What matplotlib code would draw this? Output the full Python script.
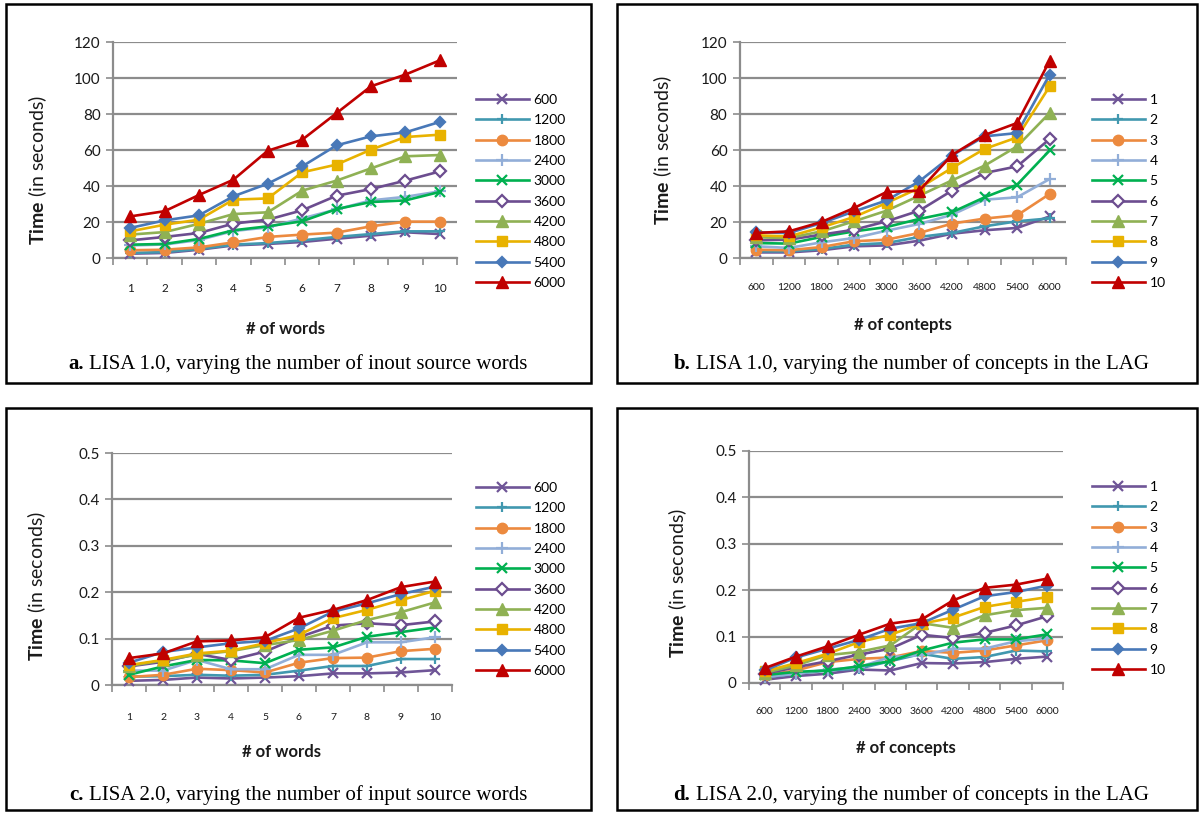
import numpy as np
import matplotlib
matplotlib.use("Agg")
import matplotlib.pyplot as plt
from matplotlib.patches import Rectangle
from matplotlib.offsetbox import TextArea, HPacker, AnchoredOffsetbox

plt.rcParams['font.family'] = ['Lato', 'DejaVu Sans']
plt.rcParams['mathtext.fontset'] = 'custom'
plt.rcParams['mathtext.rm'] = 'Lato'
plt.rcParams['mathtext.bf'] = 'Lato:bold'

# categories on the x axes
words = ['1', '2', '3', '4', '5', '6', '7', '8', '9', '10']
concepts = ['600', '1200', '1800', '2400', '3000', '3600', '4200', '4800', '5400', '6000']

# legend labels
concept_series = concepts
word_series = words

# LISA 1.0, time vs number of words (one row per concept count)
lisa1_words = [
    [2.4, 2.8, 4.6, 7.0, 7.8, 8.9, 10.7, 12.4, 14.3, 13.3],
    [2.8, 3.3, 5.0, 7.4, 8.3, 9.8, 11.7, 13.3, 14.8, 14.8],
    [4.3, 4.6, 5.9, 8.7, 11.7, 13.0, 14.1, 17.6, 20.2, 20.2],
    [7.0, 7.5, 10.0, 15.0, 17.0, 22.0, 27.0, 32.0, 34.0, 37.0],
    [7.4, 7.8, 10.6, 15.4, 17.6, 20.4, 27.2, 31.1, 32.0, 36.7],
    [9.8, 11.7, 13.9, 19.1, 21.3, 26.5, 34.6, 38.3, 43.0, 48.1],
    [13.0, 14.4, 19.0, 24.4, 25.4, 37.4, 43.0, 49.8, 56.5, 57.2],
    [14.8, 18.5, 21.3, 32.4, 33.1, 47.6, 51.9, 60.2, 67.2, 68.5],
    [16.7, 20.9, 23.7, 34.3, 41.3, 50.9, 62.6, 67.6, 69.8, 75.6],
    [23.1, 26.0, 35.0, 43.5, 59.6, 65.7, 80.5, 95.4, 101.9, 109.8],
]

# LISA 1.0, time vs number of concepts (one row per word count)
lisa1_concepts = [
    [3.1, 3.1, 4.3, 6.5, 7.0, 9.6, 13.5, 15.4, 16.7, 23.1],
    [3.7, 3.7, 5.0, 7.4, 8.3, 11.7, 13.9, 17.6, 20.4, 22.0],
    [4.6, 4.3, 6.1, 9.3, 10.2, 13.9, 19.1, 21.9, 23.7, 35.6],
    [6.5, 5.6, 8.7, 11.1, 15.2, 18.9, 24.0, 32.4, 33.7, 43.9],
    [8.3, 8.0, 11.7, 14.8, 17.2, 21.7, 25.4, 33.7, 40.7, 59.8],
    [9.8, 10.2, 13.0, 15.7, 20.4, 26.3, 37.4, 47.2, 50.9, 66.1],
    [11.5, 11.1, 14.8, 20.4, 26.3, 34.6, 43.1, 51.3, 62.0, 80.6],
    [12.6, 12.0, 17.0, 22.8, 30.6, 38.9, 50.0, 60.6, 67.0, 95.4],
    [14.3, 13.9, 19.4, 25.9, 32.0, 42.6, 56.9, 67.6, 69.4, 101.9],
    [13.9, 14.8, 20.0, 27.8, 36.7, 37.4, 57.2, 68.3, 75.0, 109.6],
]

# LISA 2.0, time vs number of words
lisa2_words = [
    [0.009, 0.011, 0.016, 0.014, 0.016, 0.019, 0.025, 0.025, 0.027, 0.032],
    [0.018, 0.019, 0.022, 0.020, 0.022, 0.031, 0.041, 0.041, 0.056, 0.056],
    [0.017, 0.022, 0.035, 0.032, 0.027, 0.048, 0.058, 0.059, 0.073, 0.078],
    [0.031, 0.031, 0.054, 0.034, 0.034, 0.065, 0.065, 0.092, 0.092, 0.103],
    [0.022, 0.040, 0.054, 0.053, 0.047, 0.076, 0.081, 0.104, 0.114, 0.124],
    [0.040, 0.050, 0.067, 0.054, 0.072, 0.103, 0.128, 0.133, 0.129, 0.137],
    [0.041, 0.053, 0.065, 0.073, 0.086, 0.097, 0.117, 0.140, 0.157, 0.178],
    [0.043, 0.054, 0.068, 0.074, 0.090, 0.108, 0.144, 0.162, 0.183, 0.203],
    [0.048, 0.071, 0.081, 0.090, 0.095, 0.122, 0.158, 0.176, 0.196, 0.212],
    [0.058, 0.068, 0.094, 0.096, 0.103, 0.145, 0.162, 0.183, 0.211, 0.223],
]

# LISA 2.0, time vs number of concepts
lisa2_concepts = [
    [0.007, 0.015, 0.020, 0.029, 0.027, 0.043, 0.042, 0.045, 0.052, 0.057],
    [0.012, 0.020, 0.027, 0.031, 0.047, 0.063, 0.052, 0.056, 0.070, 0.068],
    [0.017, 0.027, 0.045, 0.052, 0.055, 0.069, 0.065, 0.070, 0.081, 0.092],
    [0.013, 0.020, 0.029, 0.034, 0.056, 0.060, 0.074, 0.074, 0.090, 0.096],
    [0.017, 0.024, 0.027, 0.036, 0.047, 0.070, 0.087, 0.094, 0.094, 0.105],
    [0.020, 0.034, 0.047, 0.061, 0.074, 0.104, 0.097, 0.108, 0.124, 0.144],
    [0.022, 0.038, 0.060, 0.067, 0.081, 0.129, 0.119, 0.146, 0.157, 0.162],
    [0.025, 0.043, 0.063, 0.088, 0.104, 0.128, 0.141, 0.164, 0.175, 0.185],
    [0.027, 0.055, 0.074, 0.093, 0.117, 0.129, 0.158, 0.187, 0.196, 0.210],
    [0.032, 0.057, 0.079, 0.104, 0.128, 0.137, 0.178, 0.205, 0.212, 0.225],
]

# Excel-like series styles
colors = ['#6F5597', '#4198AF', '#EC8A3F', '#92AED8', '#00B050',
          '#6C4D8F', '#8FB154', '#E8B200', '#4878B8', '#C00000']
markers = ['x', '+', 'o', '+', 'x', 'D', '^', 's', 'D', '^']
msizes = [7, 7.5, 7.5, 8.5, 7, 6, 8, 7, 5.5, 8]

W, H = 1201, 813
fig = plt.figure(figsize=(W / 100, H / 100), dpi=100)

GRID = '#8C8C8C'
TXT = '#1A1A1A'


def fx(px):
    return px / W


def fy(py):
    return 1 - py / H


def panel(box, cats, data, labels, ymax, ystep, yfmt, xfs, xpad,
          leg_top, leg_left, xlabel, xlab_xy, ylab_xy, letter, caption, cap_xy):
    x0, y0, x1, y1 = box
    ax = fig.add_axes([fx(x0), fy(y1), fx(x1 - x0), (y1 - y0) / H])
    x = np.arange(1, len(cats) + 1)
    for i, row in enumerate(data):
        mfc = 'white' if i == 5 else colors[i]
        mew = 1.6 if markers[i] in ('x', '+', 'D') else 1.0
        ax.plot(x, row, color=colors[i], lw=1.9, marker=markers[i],
                ms=msizes[i], mfc=mfc, mec=colors[i], mew=mew,
                label=labels[i], clip_on=False, zorder=3 + i * 0.1)
    ax.set_xlim(0.5, len(cats) + 0.5)
    ax.set_ylim(0, ymax)
    yt = np.arange(0, ymax + ystep / 2, ystep)
    ax.set_yticks(yt)
    ax.set_yticklabels([yfmt(v) for v in yt])
    ax.tick_params(axis='y', length=5, width=1.2, color=GRID, labelsize=11,
                   labelcolor=TXT, pad=4)
    # category boundaries carry the tick marks, labels sit in between
    ax.set_xticks(np.arange(0.5, len(cats) + 1, 1.0))
    ax.set_xticklabels([])
    ax.tick_params(axis='x', length=5, width=1.2, color=GRID)
    ax.set_xticks(x, minor=True)
    ax.set_xticklabels(cats, minor=True)
    ax.tick_params(axis='x', which='minor', length=0, labelsize=xfs,
                   labelcolor=TXT, pad=xpad)
    ax.grid(axis='y', color=GRID, lw=1.6)
    ax.set_axisbelow(True)
    for s in ('top', 'right'):
        ax.spines[s].set_visible(False)
    for s in ('left', 'bottom'):
        ax.spines[s].set_color(GRID)
        ax.spines[s].set_linewidth(1.6)

    ax.legend(loc='upper left', bbox_to_anchor=(fx(leg_left), fy(leg_top)),
              bbox_transform=fig.transFigure, frameon=False, fontsize=10,
              handlelength=3.8, handletextpad=0.35, labelspacing=0.6,
              borderpad=0, borderaxespad=0)

    fig.text(fx(xlab_xy[0]), fy(xlab_xy[1]), xlabel, fontsize=12,
             fontweight='bold', color=TXT, ha='center', va='center')
    fig.text(fx(ylab_xy[0]), fy(ylab_xy[1]), r'$\mathbf{Time}$ (in seconds)',
             fontsize=14, color=TXT, rotation=90, ha='center', va='center')

    serif = dict(family='Liberation Serif', size=15, color='black')
    cap = HPacker(children=[TextArea(letter, textprops=dict(weight='bold', **serif)),
                            TextArea(caption, textprops=serif)],
                  sep=4, pad=0, align='baseline')
    fig.add_artist(AnchoredOffsetbox(loc='center', child=cap, frameon=False,
                                     pad=0, borderpad=0,
                                     bbox_to_anchor=(fx(cap_xy[0]), fy(cap_xy[1])),
                                     bbox_transform=fig.transFigure))
    return ax


def fmt_int(v):
    return '%d' % round(v)


def fmt_dec(v):
    return '0' if v == 0 else ('%.1f' % v)


panel((113, 42, 457, 258), words, lisa1_words, concept_series, 120, 20, fmt_int,
      8.5, 18, 94, 476, '# of words', (285, 329), (38, 170),
      'a.', 'LISA 1.0, varying the number of inout source words', (298, 364))
panel((740, 42, 1066, 258), concepts, lisa1_concepts, word_series, 120, 20, fmt_int,
      7.5, 18, 94, 1092, '# of contepts', (903, 325), (663, 150),
      'b.', 'LISA 1.0, varying the number of concepts in the LAG', (911, 364))
panel((112, 453, 452, 685), words, lisa2_words, concept_series, 0.5, 0.1, fmt_dec,
      7.5, 20, 482, 476, '# of words', (282, 752), (37, 586),
      'c.', 'LISA 2.0, varying the number of input source words', (298, 795))
panel((749, 451, 1063, 683), concepts, lisa2_concepts, word_series, 0.5, 0.1, fmt_dec,
      7.5, 17, 481, 1092, '# of concepts', (906, 748), (678, 583),
      'd.', 'LISA 2.0, varying the number of concepts in the LAG', (911, 795))

# black frames around each panel
for (l, t, r, b) in [(6, 4, 591, 383), (617, 4, 1197, 383),
                     (6, 408, 591, 810), (617, 408, 1197, 810)]:
    fig.add_artist(Rectangle((fx(l), fy(b)), fx(r - l), (b - t) / H,
                             transform=fig.transFigure, fill=False,
                             edgecolor='black', lw=1.8))

fig.savefig('out.png', dpi=100)
